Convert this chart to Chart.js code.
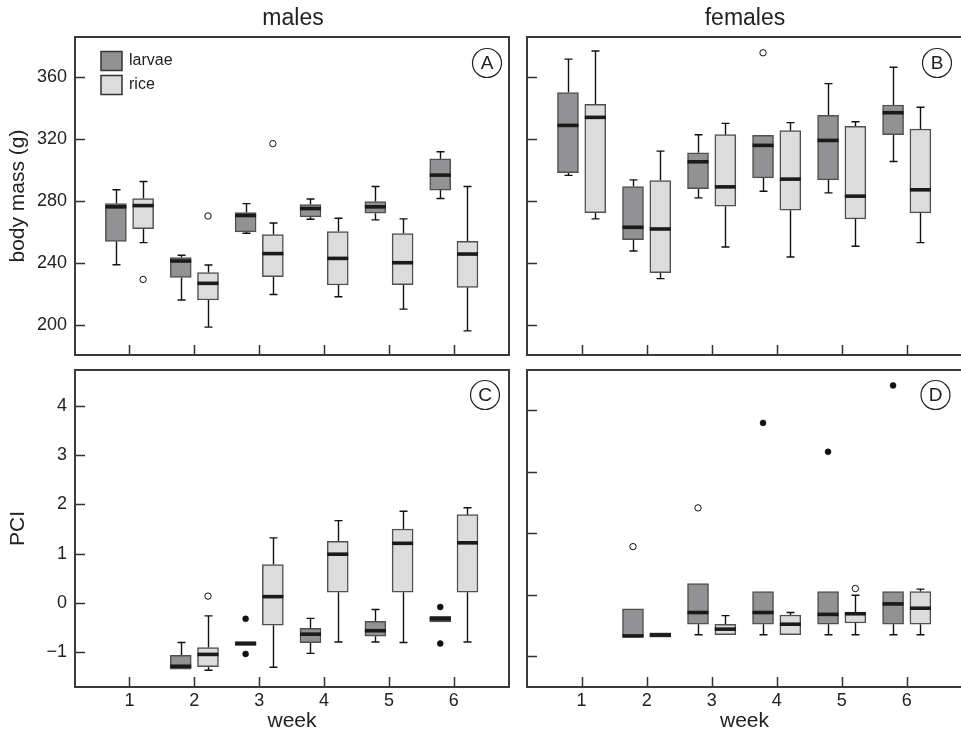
<!DOCTYPE html>
<html><head><meta charset="utf-8">
<script src="https://cdn.jsdelivr.net/npm/chart.js@4/dist/chart.umd.min.js"></script>
<style>
html,body{margin:0;padding:0;background:#fff;overflow:hidden;}
#wrap{position:relative;width:961px;height:736px;overflow:hidden;background:#fff;}
canvas{position:absolute;}
</style></head><body>
<div id="wrap">
<canvas id="cA" width="520" height="362" style="left:0;top:0"></canvas>
<canvas id="cB" width="450" height="362" style="left:520px;top:0"></canvas>
<canvas id="cC" width="520" height="374" style="left:0;top:362px"></canvas>
<canvas id="cD" width="450" height="374" style="left:520px;top:362px"></canvas>
</div>
<script>
// ---------------- data ----------------
const weeks = [1, 2, 3, 4, 5, 6];
const groups = ['larvae', 'rice'];
const panelTitles = ['males', 'females'];
const massTicks = [200, 240, 280, 320, 360];
const pciTicks = [-1, 0, 1, 2, 3, 4];
const pciFemaleTicks = [-1, 0, 1, 2, 3];

// each entry: [lower whisker, Q1, median, Q3, upper whisker]
const massMalesLarvae = [[238.9,254.0,276.3,278.4,287.3],[216.1,230.7,241.3,243.5,245.0],[259.2,260.1,270.7,272.6,278.4],[268.3,269.8,275.2,277.8,281.4],[267.9,272.2,276.3,279.7,289.4],[281.7,287.1,296.8,307.3,311.9]];
const massMalesRice   = [[253.2,262.2,277.1,281.7,292.7],[198.6,216.1,226.9,233.8,238.7],[219.7,231.2,246.1,258.4,265.9],[218.2,225.8,243.0,260.3,268.9],[210.2,226.0,240.2,259.0,268.5],[196.2,224.3,245.8,254.0,289.4]];
const massFemalesLarvae = [[296.6,298.3,328.9,350.1,371.7],[247.8,255.1,263.1,289.4,293.7],[282.1,288.1,305.4,311.2,322.9],[286.4,295.0,316.0,322.5,322.5],[285.3,293.7,319.2,335.4,355.9],[305.6,322.9,337.1,342.1,366.5]];
const massFemalesRice   = [[268.5,272.6,334.1,342.5,377.0],[229.9,233.8,262.0,293.3,312.3],[250.4,276.7,289.2,322.9,330.2],[243.9,274.1,294.2,325.5,330.7],[250.8,268.5,283.2,328.3,331.3],[253.2,272.4,287.3,326.6,340.6]];
const pciMalesLarvae = [null,[-1.34,-1.34,-1.28,-1.06,-0.80],[-0.86,-0.86,-0.82,-0.78,-0.78],[-1.02,-0.80,-0.63,-0.51,-0.31],[-0.79,-0.67,-0.56,-0.37,-0.13],[-0.38,-0.38,-0.32,-0.27,-0.27]];
const pciMalesRice   = [null,[-1.36,-1.29,-1.04,-0.90,-0.26],[-1.30,-0.45,0.13,0.78,1.32],[-0.79,0.22,0.99,1.25,1.67],[-0.80,0.22,1.21,1.50,1.86],[-0.79,0.22,1.22,1.79,1.93]];
const pciFemalesLarvae = [null,[-0.69,-0.69,-0.67,-0.23,-0.23],[-0.65,-0.48,-0.29,0.18,0.18],[-0.65,-0.48,-0.29,0.05,0.05],[-0.65,-0.48,-0.32,0.05,0.05],[-0.65,-0.48,-0.15,0.05,0.05]];
const pciFemalesRice   = [null,[-0.69,-0.69,-0.655,-0.62,-0.62],[-0.65,-0.65,-0.56,-0.48,-0.34],[-0.65,-0.65,-0.48,-0.33,-0.29],[-0.65,-0.46,-0.31,-0.29,-0.01],[-0.65,-0.48,-0.22,0.05,0.09]];

// outliers: [week, group, value, filled]
const massMalesOutliers = [[1,'rice',229.4,false],[2,'rice',270.4,false],[3,'rice',317.1,false]];
const massFemalesOutliers = [[4,'larvae',375.8,false]];
const pciMalesOutliers = [[2,'rice',0.14,false],[3,'larvae',-0.32,true],[3,'larvae',-1.03,true],[6,'larvae',-0.08,true],[6,'larvae',-0.82,true]];
const pciFemalesOutliers = [[2,'larvae',0.78,false],[3,'larvae',1.41,false],[4,'larvae',2.79,true],[5,'larvae',2.32,true],[5,'rice',0.10,false],[6,'larvae',3.40,true]];

// ---------------- style ----------------
const FONT = '"Liberation Sans", Arial, Helvetica, sans-serif';
Chart.defaults.font.family = FONT;
Chart.defaults.color = '#222';
const OFFSET = {larvae: -0.21, rice: 0.21};
const FILL = {larvae: '#929295', rice: '#dcdcdc'};
const EDGE = '#505050';
const BOXW = 21;

function fmt(v){ return v < 0 ? '\u2212' + Math.abs(v) : String(v); }

function makePanel(id, p){
  const series = {larvae: p.larvae, rice: p.rice};
  const barSet = g => ({
    type: 'bar', label: g,
    data: weeks.map((w,i) => series[g][i] ? {x: w + OFFSET[g], y: [series[g][i][1], series[g][i][3]]} : null).filter(Boolean),
    backgroundColor: FILL[g], borderColor: EDGE, borderWidth: 1.5, borderSkipped: false,
    grouped: false, barPercentage: 1, categoryPercentage: 1, maxBarThickness: BOXW, order: 2
  });
  const outSet = filled => ({
    type: 'scatter',
    data: p.outliers.filter(o => o[3] === filled).map(o => ({x: o[0] + OFFSET[o[1]], y: o[2]})),
    pointStyle: 'circle', pointRadius: filled ? 3 : 3.2,
    backgroundColor: filled ? '#111' : '#fff', borderColor: '#111', borderWidth: filled ? 0.5 : 1,
    order: 1
  });

  const boxPlugin = {
    id: 'box_' + id,
    beforeDatasetsDraw(chart){
      const ctx = chart.ctx, xs = chart.scales.x, ys = chart.scales.y;
      ctx.save();
      ctx.strokeStyle = '#111'; ctx.lineWidth = 1.4;
      groups.forEach(g => series[g].forEach((b,i) => {
        if (!b) return;
        const cx = Math.round(xs.getPixelForValue(weeks[i] + OFFSET[g])) + 0.5;
        const pLo = ys.getPixelForValue(b[0]), pQ1 = ys.getPixelForValue(b[1]);
        const pQ3 = ys.getPixelForValue(b[3]), pHi = ys.getPixelForValue(b[4]);
        ctx.beginPath();
        if (b[4] - b[3] > 1e-9){ ctx.moveTo(cx, pQ3); ctx.lineTo(cx, pHi); ctx.moveTo(cx-4, pHi); ctx.lineTo(cx+4, pHi); }
        if (b[1] - b[0] > 1e-9){ ctx.moveTo(cx, pQ1); ctx.lineTo(cx, pLo); ctx.moveTo(cx-4, pLo); ctx.lineTo(cx+4, pLo); }
        ctx.stroke();
      }));
      ctx.restore();
    },
    afterDatasetsDraw(chart){
      const ctx = chart.ctx, xs = chart.scales.x, ys = chart.scales.y;
      ctx.save();
      ctx.strokeStyle = '#1a1a1a'; ctx.lineWidth = 3.6;
      groups.forEach(g => series[g].forEach((b,i) => {
        if (!b) return;
        const cx = xs.getPixelForValue(weeks[i] + OFFSET[g]);
        const pm = ys.getPixelForValue(b[2]);
        ctx.beginPath(); ctx.moveTo(cx - BOXW/2, pm); ctx.lineTo(cx + BOXW/2, pm); ctx.stroke();
      }));
      ctx.restore();
    },
    afterDraw(chart){
      const ctx = chart.ctx, a = chart.chartArea, xs = chart.scales.x, ys = chart.scales.y;
      ctx.save();
      // inward ticks
      ctx.strokeStyle = '#333'; ctx.lineWidth = 1.5;
      ctx.beginPath();
      p.yTicks.forEach(v => { const y = Math.round(ys.getPixelForValue(v)) + 0.5; ctx.moveTo(a.left, y); ctx.lineTo(a.left + 10, y); });
      weeks.forEach(w => { const x = Math.round(xs.getPixelForValue(w)) + 0.5; ctx.moveTo(x, a.bottom); ctx.lineTo(x, a.bottom - 10); });
      ctx.stroke();
      // frame
      ctx.strokeStyle = '#3a3a3a'; ctx.lineWidth = 2;
      ctx.strokeRect(a.left, a.top, a.right - a.left, a.bottom - a.top);
      // panel letter
      ctx.lineWidth = 1.2; ctx.strokeStyle = '#222';
      ctx.beginPath(); ctx.arc(p.letterX, p.letterY, 14.5, 0, Math.PI * 2); ctx.stroke();
      ctx.fillStyle = '#222'; ctx.font = '19px ' + FONT; ctx.textAlign = 'center'; ctx.textBaseline = 'middle';
      ctx.fillText(p.letter, p.letterX, p.letterY + 1);
      // column title
      if (p.title){
        ctx.font = '23px ' + FONT; ctx.textBaseline = 'alphabetic';
        ctx.fillText(p.title, p.titleX, 25);
      }
      // legend
      if (p.legend){
        ctx.textAlign = 'left'; ctx.textBaseline = 'middle'; ctx.font = '16px ' + FONT;
        groups.forEach((g, k) => {
          const y = 51.5 + k * 24;
          ctx.fillStyle = FILL[g]; ctx.fillRect(101, y, 21, 19);
          ctx.strokeStyle = '#333'; ctx.lineWidth = 1.5; ctx.strokeRect(101, y, 21, 19);
          ctx.fillStyle = '#222'; ctx.fillText(g, 129, y + 9.5);
        });
      }
      ctx.restore();
    }
  };

  return new Chart(document.getElementById(id), {
    type: 'bar',
    data: { datasets: [barSet('larvae'), barSet('rice'), outSet(false), outSet(true)] },
    options: {
      responsive: false, animation: false, events: [],
      layout: { padding: p.padding },
      plugins: { legend: {display: false}, tooltip: {enabled: false} },
      scales: {
        x: {
          type: 'linear', min: 0.16, max: 6.85, offset: false, display: p.showX,
          grid: {display: false, drawTicks: false, offset: false}, border: {display: false},
          afterBuildTicks: s => { s.ticks = weeks.map(v => ({value: v})); },
          afterFit: s => { if (p.showX) s.height = 49; s.paddingLeft = 0; s.paddingRight = 0; },
          ticks: { font: {size: 18}, padding: 3, maxRotation: 0, callback: v => String(v) },
          title: { display: p.showX, text: 'week', font: {size: 21}, padding: {top: 0, bottom: 2} }
        },
        y: {
          type: 'linear', min: p.yMin, max: p.yMax, display: p.showY,
          grid: {display: false, drawTicks: false}, border: {display: false},
          afterBuildTicks: s => { s.ticks = p.yTicks.map(v => ({value: v})); },
          afterFit: s => { if (p.showY) s.width = 75; s.paddingTop = 0; s.paddingBottom = 0; },
          ticks: { font: {size: 18}, padding: 8, callback: v => fmt(v) },
          title: { display: p.showY, text: p.yTitle, font: {size: 21}, padding: {top: 6, bottom: 0} }
        }
      }
    },
    plugins: [boxPlugin]
  });
}

makePanel('cA', {larvae: massMalesLarvae, rice: massMalesRice, outliers: massMalesOutliers,
  yMin: 180.6, yMax: 386, yTicks: massTicks, showY: true, showX: false, yTitle: 'body mass (g)',
  padding: {top: 37, right: 11, bottom: 7, left: 0}, letter: 'A', letterX: 487, letterY: 63,
  title: panelTitles[0], titleX: 293, legend: true});
makePanel('cB', {larvae: massFemalesLarvae, rice: massFemalesRice, outliers: massFemalesOutliers,
  yMin: 180.6, yMax: 386, yTicks: massTicks, showY: false, showX: false, yTitle: '',
  padding: {top: 37, right: 8, bottom: 7, left: 7}, letter: 'B', letterX: 417, letterY: 63,
  title: panelTitles[1], titleX: 225, legend: false});
makePanel('cC', {larvae: pciMalesLarvae, rice: pciMalesRice, outliers: pciMalesOutliers,
  yMin: -1.70, yMax: 4.72, yTicks: pciTicks, showY: true, showX: true, yTitle: 'PCI',
  padding: {top: 8, right: 11, bottom: 0, left: 0}, letter: 'C', letterX: 485, letterY: 33,
  title: null, legend: false});
makePanel('cD', {larvae: pciFemalesLarvae, rice: pciFemalesRice, outliers: pciFemalesOutliers,
  yMin: -1.50, yMax: 3.65, yTicks: pciFemaleTicks, showY: false, showX: true, yTitle: '',
  padding: {top: 8, right: 8, bottom: 0, left: 7}, letter: 'D', letterX: 415.5, letterY: 33,
  title: null, legend: false});
</script>
</body></html>
